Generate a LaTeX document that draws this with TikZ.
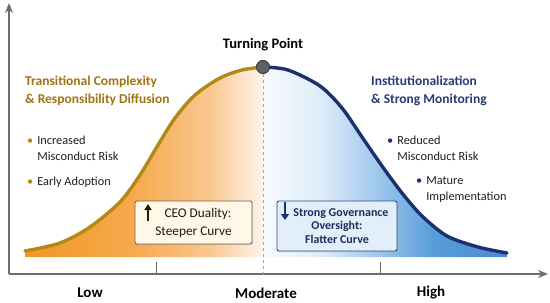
\documentclass[tikz,border=0pt]{standalone}
\usepackage{fontspec}
\setmainfont{Carlito}
\usetikzlibrary{arrows.meta,shadows}
\definecolor{goldline}{RGB}{178,136,22}
\definecolor{goldtext}{RGB}{160,116,18}
\definecolor{navyline}{RGB}{28,48,112}
\definecolor{navytext}{RGB}{38,58,118}
\definecolor{axisgray}{RGB}{110,110,110}
\definecolor{bodytext}{RGB}{30,30,30}
\definecolor{ceofill}{RGB}{255,248,232}
\definecolor{ceoborder}{RGB}{110,100,80}
\definecolor{govfill}{RGB}{226,238,250}
\definecolor{govborder}{RGB}{50,74,120}
\definecolor{peakfill}{RGB}{96,96,96}
\definecolor{peakborder}{RGB}{60,60,60}
\definecolor{oA}{RGB}{242,150,40}
\definecolor{oB}{RGB}{246,170,76}
\definecolor{oC}{RGB}{249,200,145}
\definecolor{oD}{RGB}{255,244,236}
\definecolor{bA}{RGB}{246,250,254}
\definecolor{bB}{RGB}{222,236,249}
\definecolor{bC}{RGB}{155,198,236}
\definecolor{bD}{RGB}{88,156,218}
\definecolor{bE}{RGB}{74,140,208}
\pgfdeclarehorizontalshading{orangefade}{100bp}{color(0bp)=(oA); color(25bp)=(oA); color(48bp)=(oB); color(64bp)=(oC); color(75bp)=(oD); color(100bp)=(oD)}
\pgfdeclarehorizontalshading{bluefade}{100bp}{color(0bp)=(bA); color(25bp)=(bA); color(37bp)=(bB); color(49bp)=(bC); color(60bp)=(bD); color(75bp)=(bE); color(100bp)=(bE)}
\tikzset{
  axisline/.style={axisgray, line width=1.6pt},
  tickline/.style={axisgray, line width=0.8pt},
  axislabel/.style={font=\bfseries\fontsize{15}{17}\selectfont, text=black, inner sep=0pt},
  titletext/.style={font=\bfseries\fontsize{13.5}{18}\selectfont, align=left, anchor=west, inner sep=0pt},
  bullettext/.style={font=\fontsize{12.3}{16}\selectfont, text=bodytext, align=left, anchor=west, inner sep=0pt},
  ceobox/.style={draw=ceoborder, fill=ceofill, line width=0.9pt, rounded corners=2pt, minimum width=117pt, minimum height=43pt, align=center, inner sep=0pt, font=\fontsize{13.3}{18}\selectfont, text=black!90, drop shadow={opacity=0.2, shadow xshift=1pt, shadow yshift=-1pt}},
  govbox/.style={draw=govborder, fill=govfill, line width=0.9pt, rounded corners=2pt, minimum width=120pt, minimum height=50pt, align=center, inner sep=0pt, font=\bfseries\fontsize{12}{13.5}\selectfont, text=navytext!80!black, drop shadow={opacity=0.2, shadow xshift=1pt, shadow yshift=-1pt}},
}
\begin{document}
\begin{tikzpicture}[x=1pt, y=-1pt]
\useasboundingbox (0,0) rectangle (550,303);
% fills
\shade[shading=orangefade] plot[smooth] coordinates {(25,251) (60,243) (90,227) (120,202) (140,175) (158,145) (175,118) (195,95) (220,78) (242,70) (263,67)} -- (263,257) -- (25,257) -- cycle;
\shade[shading=bluefade] plot[smooth] coordinates {(263,67) (288,70) (320,86) (342,108) (362,137) (382,166) (402,193) (422,216) (447,236) (478,247) (507,253)} -- (507,257) -- (263,257) -- cycle;
% axes
\coordinate (origin) at (9,274);
\coordinate (xend) at (548,274);
\coordinate (yend) at (9,3);
\coordinate (t1) at (156,274);
\coordinate (t2) at (380,274);
\coordinate (t1top) at (156,262);
\coordinate (t2top) at (380,262);
\draw[axisline, -{Stealth[length=10pt,width=8pt]}] (origin) -- (yend);
\draw[axisline, -{Stealth[length=10pt,width=8pt]}] (origin) -- (xend);
\draw[tickline] (t1) -- (t1top);
\draw[tickline] (t2) -- (t2top);
% peak
\node[circle, fill=peakfill, draw=peakborder, line width=0.8pt, minimum size=13pt, inner sep=0pt] (peak) at (263,67) {};
\coordinate (peakbase) at (263,274);
\draw[gray!70, dashed, line width=0.8pt] (peak) -- (peakbase);
% curves
\draw[goldline, line width=3.4pt, line cap=round] plot[smooth] coordinates {(25,251) (60,243) (90,227) (120,202) (140,175) (158,145) (175,118) (195,95) (220,78) (242,70) (263,67)};
\draw[navyline, line width=3.4pt, line cap=round] plot[smooth] coordinates {(263,67) (288,70) (320,86) (342,108) (362,137) (382,166) (402,193) (422,216) (447,236) (478,247) (507,253)};
\node[circle, fill=peakfill, draw=peakborder, line width=0.8pt, minimum size=13pt, inner sep=0pt] at (263,67) {};
% titles
\node[font=\bfseries\fontsize{14.5}{16}\selectfont, inner sep=0pt] (tp) at (263,45) {Turning Point};
\node[titletext, text=goldtext] (ltitle) at (25,91) {Transitional Complexity\\\& Responsibility Diffusion};
\node[titletext, text=navytext] (rtitle) at (371,91) {Institutionalization\\\& Strong Monitoring};
% bullets
\node[bullettext] (lb1) at (27,148) {\textcolor{goldline}{•}\hspace{4pt}Increased\\\hphantom{•}\hspace{4pt}Misconduct Risk};
\node[bullettext] (lb2) at (27,182) {\textcolor{goldline}{•}\hspace{4pt}Early Adoption};
\node[bullettext] (rb1) at (387,148) {\textcolor{navyline}{•}\hspace{4pt}Reduced\\\hphantom{•}\hspace{4pt}Misconduct Risk};
\node[bullettext] (rb2) at (416,190) {\textcolor{navyline}{•}\hspace{4pt}Mature\\\hphantom{•}\hspace{4pt}Implementation};
% boxes
\node[ceobox] (ceo) at (193.5,222.5) {\hspace*{9pt}CEO Duality:\\Steeper Curve};
\node[govbox] (gov) at (337,226) {\hspace*{8pt}Strong Governance\\Oversight:\\Flatter Curve};
\coordinate (upA) at (148,221);
\coordinate (upB) at (148,204);
\coordinate (dnA) at (285,202);
\coordinate (dnB) at (285,220);
\draw[black!80!goldline, line width=2.2pt, -{Triangle[length=6pt,width=7pt]}] (upA) -- (upB);
\draw[navyline, line width=2.8pt, -{Triangle[length=6pt,width=8pt]}] (dnA) -- (dnB);
% axis labels
\node[axislabel] (low) at (90,293) {Low};
\node[axislabel] (mod) at (266,293) {Moderate};
\node[axislabel] (high) at (431,293) {High};
\end{tikzpicture}
\end{document}
